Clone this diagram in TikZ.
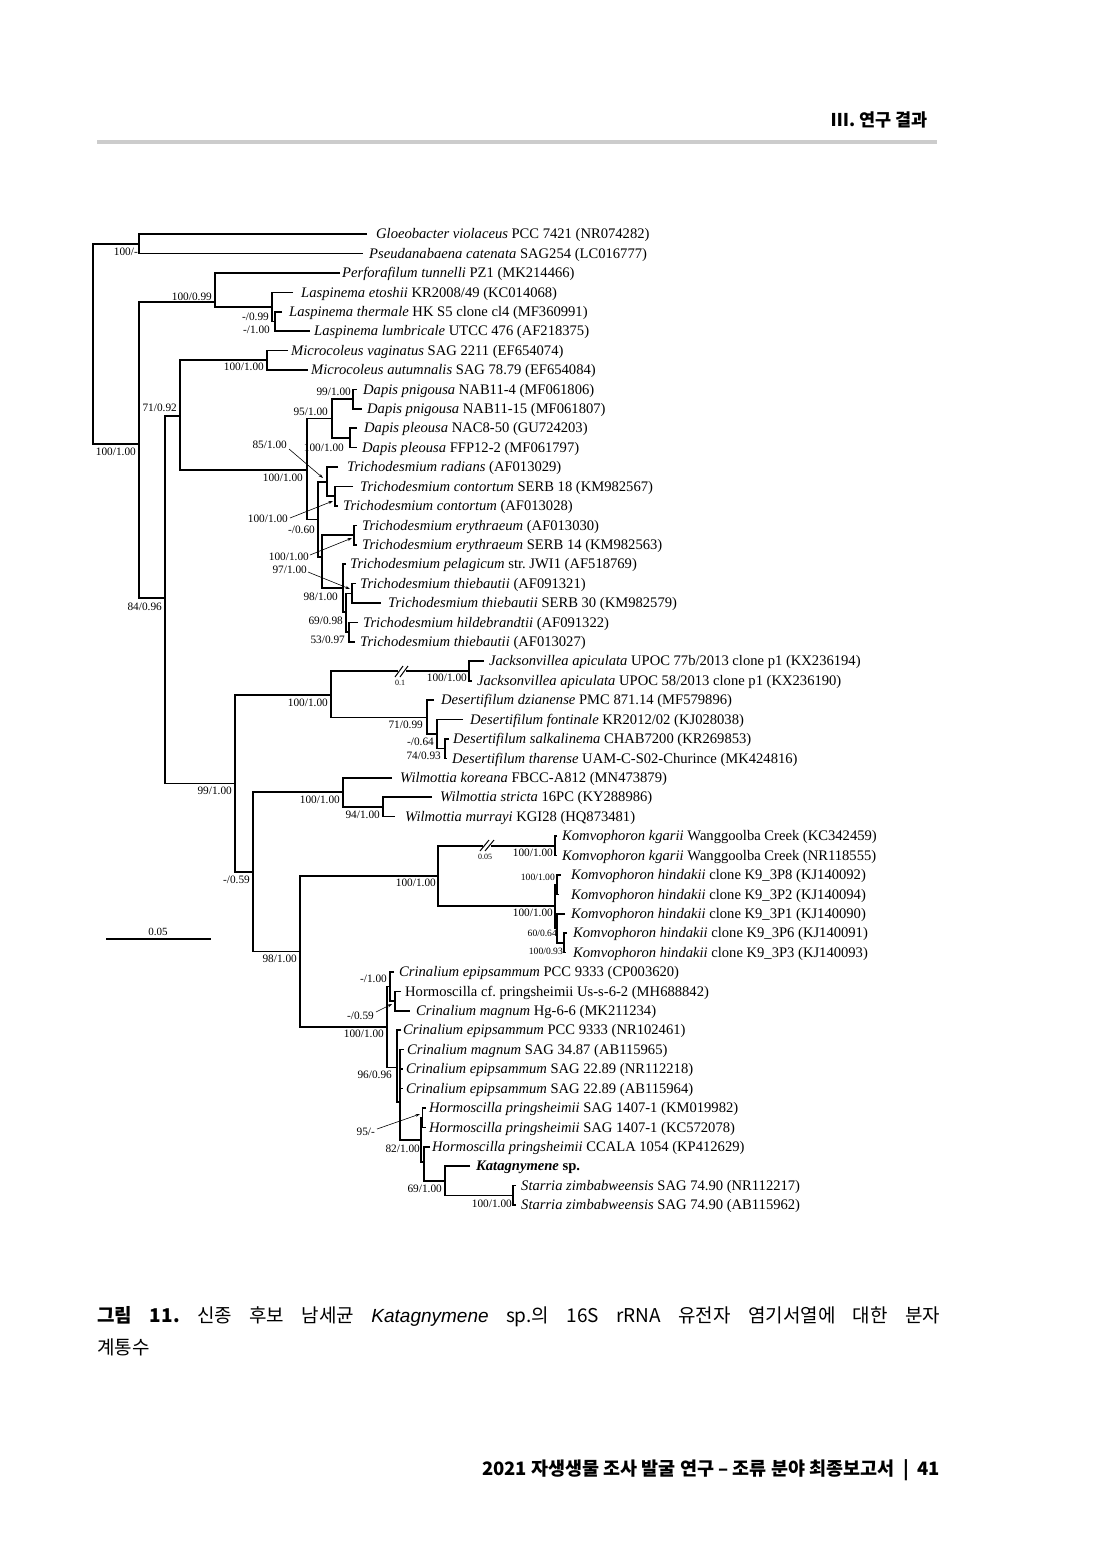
\documentclass[tikz,border=0pt]{standalone}
\usepackage{fontspec}
\setmainfont{Liberation Serif}
\newfontfamily\kr{Noto Sans CJK KR}
\newfontfamily\capsans{Liberation Sans}
\usetikzlibrary{arrows.meta}
\frenchspacing
\begin{document}
\begin{tikzpicture}[x=1pt,y=-1pt,
  br/.style={line width=1.6pt},
  brk/.style={line width=1pt},
  lf/.style={anchor=base west, inner sep=0pt, font=\fontsize{14.6}{16}\selectfont},
  sp/.style={anchor=base east, inner sep=0pt, font=\fontsize{11.3}{13}\selectfont},
  spsm/.style={anchor=base east, inner sep=0pt, font=\fontsize{9.6}{11}\selectfont},
  tiny/.style={anchor=base, inner sep=0pt, font=\fontsize{8}{9}\selectfont},
  ar/.style={line width=0.6pt, -{Stealth[length=4.5pt,width=3pt]}}]
\useasboundingbox (0,0) rectangle (1100,1554);
\fill[white] (0,0) rectangle (1100,1554);

% header and footer
\node[anchor=base east, inner sep=0pt, font=\kr\bfseries\fontsize{17.5}{20}\selectfont] (hdr) at (928,127) {Ⅲ. 연구 결과};
\draw[line width=3.5pt, color=black!20] (97,142) -- (937,142);
\node[anchor=base east, inner sep=0pt, font=\kr\bfseries\fontsize{18.5}{20}\selectfont] (ftr) at (940,1475) {2021 자생생물 조사 발굴 연구 – 조류 분야 최종보고서 \ | \ 41};

% caption
\node[anchor=base west, inner sep=0pt, font=\kr\fontsize{19}{22}\selectfont] (cap1) at (97,1322)
  {\makebox[843pt][s]{{\bfseries 그림 11.} 신종 후보 남세균 {\capsans\itshape Katagnymene} sp.의 16S rRNA 유전자 염기서열에 대한 분자}};
\node[anchor=base west, inner sep=0pt, font=\kr\fontsize{19}{22}\selectfont] (cap2) at (97,1354) {계통수};

% scale bar
\draw[line width=1.4pt] (106,939) -- (211,939);
\node[anchor=base, inner sep=0pt, font=\fontsize{11}{13}\selectfont] (scl) at (158,935) {0.05};

% ---------- tree branches ----------
\draw[br] (139,244) -- (93,244) -- (93,444) -- (139,444);
\draw[br] (367,234) -- (139,234) -- (139,253.4) -- (363,253.4);
\draw[br] (215,302) -- (139,302) -- (139,598) -- (165,598);
\draw[br] (340,272.8) -- (215,272.8) -- (215,307) -- (272,307);
\draw[br] (293,292.3) -- (272,292.3) -- (272,321.4) -- (275,321.4);
\draw[br] (282,311.7) -- (275,311.7) -- (275,331.1) -- (310,331.1);
\draw[br] (180,416) -- (165,416) -- (165,783.5) -- (235,783.5);
\draw[br] (267,360) -- (180,360) -- (180,470) -- (307,470);
\draw[br] (288,350.5) -- (267,350.5) -- (267,369.9) -- (308,369.9);
\draw[br] (332,418.5) -- (307,418.5) -- (307,519.5) -- (318,519.5);
\draw[br] (353,399) -- (332,399) -- (332,438) -- (350,438);
\draw[br] (357,389.4) -- (353,389.4) -- (353,408.8) -- (362,408.8);
\draw[br] (357,428.2) -- (350,428.2) -- (350,447.6) -- (357,447.6);
\draw[br] (327,482) -- (318,482) -- (318,557) -- (322,557);
\draw[br] (338,467) -- (327,467) -- (327,496.2) -- (335,496.2);
\draw[br] (353,486.5) -- (335,486.5) -- (335,505.9) -- (338,505.9);
\draw[br] (354,535) -- (322,535) -- (322,588) -- (343,588);
\draw[br] (357,525.3) -- (354,525.3) -- (354,544.7) -- (357,544.7);
\draw[br] (346,564.1) -- (343,564.1) -- (343,612) -- (346,612);
\draw[br] (352,593.3) -- (346,593.3) -- (346,632.1) -- (349,632.1);
\draw[br] (356,583.6) -- (352,583.6) -- (352,603) -- (381,603);
\draw[br] (358,622.4) -- (349,622.4) -- (349,641.8) -- (355,641.8);
% Jacksonvillea / Desertifilum
\draw[br] (331,695) -- (235,695) -- (235,872) -- (253,872);
\draw[br] (398,671) -- (331,671) -- (331,717.5) -- (427,717.5);
\draw[br] (406,671) -- (469,671);
\draw[brk] (395,677) -- (403,666);
\draw[brk] (400,677) -- (408,666);
\draw[br] (484,661.2) -- (469,661.2) -- (469,680.7) -- (472,680.7);
\draw[br] (434,700.1) -- (427,700.1) -- (427,734) -- (437,734);
\draw[br] (463,719.5) -- (437,719.5) -- (437,748.6) -- (445,748.6);
\draw[br] (449,738.9) -- (445,738.9) -- (445,758.3) -- (447,758.3);
% Wilmottia
\draw[br] (343,792) -- (253,792) -- (253,951.5) -- (300,951.5);
\draw[br] (392,777.8) -- (343,777.8) -- (343,807) -- (383,807);
\draw[br] (432,797.2) -- (383,797.2) -- (383,816.6) -- (395,816.6);
% Komvophoron
\draw[br] (438,876) -- (300,876) -- (300,1027) -- (387,1027);
\draw[br] (483,845.7) -- (438,845.7) -- (438,906) -- (555,906);
\draw[br] (491,845.7) -- (555,845.7);
\draw[brk] (480,851) -- (489,840);
\draw[brk] (485,851) -- (494,840);
\draw[br] (557,836) -- (555,836) -- (555,855.4) -- (557,855.4);
\draw[br] (557,884.6) -- (555,884.6) -- (555,928) -- (557,928);
\draw[br] (561,874.9) -- (557,874.9) -- (557,894.3) -- (559,894.3);
\draw[br] (565,913.7) -- (557,913.7) -- (557,942.8) -- (564,942.8);
\draw[br] (567,933.1) -- (564,933.1) -- (564,952.5) -- (566,952.5);
% Crinalium / Hormoscilla / Katagnymene / Starria
\draw[br] (390,986.5) -- (387,986.5) -- (387,1067.5) -- (397,1067.5);
\draw[br] (394,972) -- (390,972) -- (390,1001) -- (395,1001);
\draw[br] (401,991.4) -- (395,991.4) -- (395,1010.8) -- (410,1010.8);
\draw[br] (401,1030.2) -- (397,1030.2) -- (397,1102) -- (400,1102);
\draw[br] (404,1049.6) -- (400,1049.6) -- (400,1140) -- (421,1140);
\draw[br] (400,1069.1) -- (403,1069.1);
\draw[br] (400,1088.5) -- (403,1088.5);
\draw[br] (422.5,1117.6) -- (421,1117.6) -- (421,1162) -- (424,1162);
\draw[br] (426,1107.9) -- (422.5,1107.9) -- (422.5,1127.3) -- (426,1127.3);
\draw[br] (430,1146.7) -- (424,1146.7) -- (424,1181) -- (445,1181);
\draw[br] (470,1166.2) -- (445,1166.2) -- (445,1195.3) -- (513,1195.3);
\draw[br] (516,1185.6) -- (513,1185.6) -- (513,1205) -- (516,1205);

% arrows
\draw[ar] (289,449) -- (323,478);
\draw[ar] (290,518) -- (333,501);
\draw[ar] (310,555) -- (352,538);
\draw[ar] (308,572) -- (350,589);
\draw[ar] (376,1012) -- (392,1004);
\draw[ar] (377,1129) -- (420,1114);

% ---------- leaves ----------
\node[lf] (l1) at (376,238.7) {\textit{Gloeobacter violaceus} PCC 7421 (NR074282)};
\node[lf] (l2) at (369,258.1) {\textit{Pseudanabaena catenata} SAG254 (LC016777)};
\node[lf] (l3) at (342,277.5) {\textit{Perforafilum tunnelli} PZ1 (MK214466)};
\node[lf] (l4) at (301,297.0) {\textit{Laspinema etoshii} KR2008/49 (KC014068)};
\node[lf] (l5) at (289,316.4) {\textit{Laspinema thermale} HK S5 clone cl4 (MF360991)};
\node[lf] (l6) at (314,335.8) {\textit{Laspinema lumbricale} UTCC 476 (AF218375)};
\node[lf] (l7) at (291,355.2) {\textit{Microcoleus vaginatus} SAG 2211 (EF654074)};
\node[lf] (l8) at (311,374.6) {\textit{Microcoleus autumnalis} SAG 78.79 (EF654084)};
\node[lf] (l9) at (363,394.1) {\textit{Dapis pnigousa} NAB11-4 (MF061806)};
\node[lf] (l10) at (367,413.5) {\textit{Dapis pnigousa} NAB11-15 (MF061807)};
\node[lf] (l11) at (364,432.9) {\textit{Dapis pleousa} NAC8-50 (GU724203)};
\node[lf] (l12) at (362,452.3) {\textit{Dapis pleousa} FFP12-2 (MF061797)};
\node[lf] (l13) at (347,471.7) {\textit{Trichodesmium radians} (AF013029)};
\node[lf] (l14) at (360,491.2) {\textit{Trichodesmium contortum} SERB 18 (KM982567)};
\node[lf] (l15) at (343,510.6) {\textit{Trichodesmium contortum} (AF013028)};
\node[lf] (l16) at (362,530.0) {\textit{Trichodesmium erythraeum} (AF013030)};
\node[lf] (l17) at (362,549.4) {\textit{Trichodesmium erythraeum} SERB 14 (KM982563)};
\node[lf] (l18) at (350,568.8) {\textit{Trichodesmium pelagicum} str. JWI1 (AF518769)};
\node[lf] (l19) at (360,588.3) {\textit{Trichodesmium thiebautii} (AF091321)};
\node[lf] (l20) at (388,607.7) {\textit{Trichodesmium thiebautii} SERB 30 (KM982579)};
\node[lf] (l21) at (363,627.1) {\textit{Trichodesmium hildebrandtii} (AF091322)};
\node[lf] (l22) at (360,646.5) {\textit{Trichodesmium thiebautii} (AF013027)};
\node[lf] (l23) at (489,665.9) {\textit{Jacksonvillea apiculata} UPOC 77b/2013 clone p1 (KX236194)};
\node[lf] (l24) at (477,685.4) {\textit{Jacksonvillea apiculata} UPOC 58/2013 clone p1 (KX236190)};
\node[lf] (l25) at (441,704.8) {\textit{Desertifilum dzianense} PMC 871.14 (MF579896)};
\node[lf] (l26) at (470,724.2) {\textit{Desertifilum fontinale} KR2012/02 (KJ028038)};
\node[lf] (l27) at (453,743.6) {\textit{Desertifilum salkalinema} CHAB7200 (KR269853)};
\node[lf] (l28) at (452,763.0) {\textit{Desertifilum tharense} UAM-C-S02-Churince (MK424816)};
\node[lf] (l29) at (400,782.5) {\textit{Wilmottia koreana} FBCC-A812 (MN473879)};
\node[lf] (l30) at (440,801.9) {\textit{Wilmottia stricta} 16PC (KY288986)};
\node[lf] (l31) at (405,821.3) {\textit{Wilmottia murrayi} KGI28 (HQ873481)};
\node[lf] (l32) at (562,840.7) {\textit{Komvophoron kgarii} Wanggoolba Creek (KC342459)};
\node[lf] (l33) at (562,860.1) {\textit{Komvophoron kgarii} Wanggoolba Creek (NR118555)};
\node[lf] (l34) at (571,879.6) {\textit{Komvophoron hindakii} clone K9\_3P8 (KJ140092)};
\node[lf] (l35) at (571,899.0) {\textit{Komvophoron hindakii} clone K9\_3P2 (KJ140094)};
\node[lf] (l36) at (571,918.4) {\textit{Komvophoron hindakii} clone K9\_3P1 (KJ140090)};
\node[lf] (l37) at (573,937.8) {\textit{Komvophoron hindakii} clone K9\_3P6 (KJ140091)};
\node[lf] (l38) at (573,957.2) {\textit{Komvophoron hindakii} clone K9\_3P3 (KJ140093)};
\node[lf] (l39) at (399,976.7) {\textit{Crinalium epipsammum} PCC 9333 (CP003620)};
\node[lf] (l40) at (405,996.1) {Hormoscilla cf. pringsheimii Us-s-6-2 (MH688842)};
\node[lf] (l41) at (416,1015.5) {\textit{Crinalium magnum} Hg-6-6 (MK211234)};
\node[lf] (l42) at (403,1034.9) {\textit{Crinalium epipsammum} PCC 9333 (NR102461)};
\node[lf] (l43) at (407,1054.3) {\textit{Crinalium magnum} SAG 34.87 (AB115965)};
\node[lf] (l44) at (406,1073.8) {\textit{Crinalium epipsammum} SAG 22.89 (NR112218)};
\node[lf] (l45) at (406,1093.2) {\textit{Crinalium epipsammum} SAG 22.89 (AB115964)};
\node[lf] (l46) at (429,1112.6) {\textit{Hormoscilla pringsheimii} SAG 1407-1 (KM019982)};
\node[lf] (l47) at (429,1132.0) {\textit{Hormoscilla pringsheimii} SAG 1407-1 (KC572078)};
\node[lf] (l48) at (432,1151.4) {\textit{Hormoscilla pringsheimii} CCALA 1054 (KP412629)};
\node[lf] (l49) at (476,1170.9) {\textbf{\textit{Katagnymene} sp.}};
\node[lf] (l50) at (521,1190.3) {\textit{Starria zimbabweensis} SAG 74.90 (NR112217)};
\node[lf] (l51) at (521,1209.7) {\textit{Starria zimbabweensis} SAG 74.90 (AB115962)};

% ---------- support values ----------
\node[sp] (s1) at (138,255.7) {100/-};
\node[sp] (s2) at (212,300.7) {100/0.99};
\node[sp] (s3) at (269,320.7) {-/0.99};
\node[sp] (s4) at (270,333.7) {-/1.00};
\node[sp] (s5) at (264,370.7) {100/1.00};
\node[sp] (s6) at (177,411.7) {71/0.92};
\node[sp] (s7) at (136,455.7) {100/1.00};
\node[sp] (s8) at (351,395.7) {99/1.00};
\node[sp] (s9) at (328,415.7) {95/1.00};
\node[sp] (s10) at (287,448.7) {85/1.00};
\node[sp] (s11) at (344,451.7) {100/1.00};
\node[sp] (s12) at (303,481.7) {100/1.00};
\node[sp] (s13) at (288,522.7) {100/1.00};
\node[sp] (s14) at (315,533.7) {-/0.60};
\node[sp] (s15) at (309,560.7) {100/1.00};
\node[sp] (s16) at (307,573.7) {97/1.00};
\node[sp] (s17) at (338,600.7) {98/1.00};
\node[sp] (s18) at (343,624.7) {69/0.98};
\node[sp] (s19) at (345,643.7) {53/0.97};
\node[sp] (s20) at (162,610.7) {84/0.96};
\node[sp] (s21) at (467,681.7) {100/1.00};
\node[tiny] (s22) at (400,685) {0.1};
\node[sp] (s23) at (328,706.7) {100/1.00};
\node[sp] (s24) at (423,728.7) {71/0.99};
\node[sp] (s25) at (434,745.7) {-/0.64};
\node[sp] (s26) at (441,759.7) {74/0.93};
\node[sp] (s27) at (232,794.7) {99/1.00};
\node[sp] (s28) at (340,803.7) {100/1.00};
\node[sp] (s29) at (380,818.7) {94/1.00};
\node[tiny] (s30) at (485,859) {0.05};
\node[sp] (s31) at (553,856.7) {100/1.00};
\node[sp] (s32) at (250,883.7) {-/0.59};
\node[sp] (s33) at (436,886.7) {100/1.00};
\node[spsm] (s34) at (555,880.7) {100/1.00};
\node[sp] (s35) at (553,916.7) {100/1.00};
\node[spsm] (s36) at (557,936.7) {60/0.64};
\node[spsm] (s37) at (563,954.7) {100/0.93};
\node[sp] (s39) at (297,962.7) {98/1.00};
\node[sp] (s40) at (387,982.7) {-/1.00};
\node[sp] (s41) at (374,1019.7) {-/0.59};
\node[sp] (s42) at (384,1037.7) {100/1.00};
\node[sp] (s43) at (392,1078.7) {96/0.96};
\node[sp] (s44) at (375,1135.7) {95/-};
\node[sp] (s45) at (420,1152.7) {82/1.00};
\node[sp] (s46) at (442,1192.7) {69/1.00};
\node[sp] (s47) at (512,1207.7) {100/1.00};
\end{tikzpicture}
\end{document}
